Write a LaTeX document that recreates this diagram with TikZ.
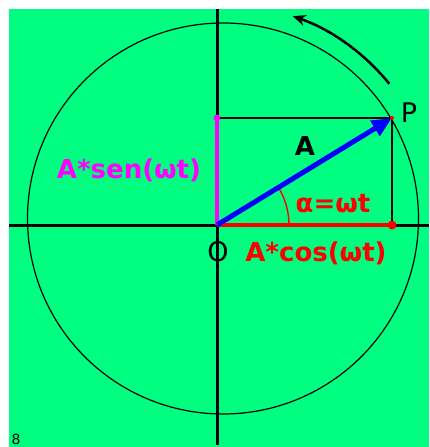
\documentclass[tikz,border=0pt]{standalone}
\usepackage{fontspec}
\setmainfont{DejaVu Sans}
\usetikzlibrary{arrows.meta}
\definecolor{fondo}{RGB}{0,255,128}
\definecolor{rosa}{RGB}{255,0,255}

\begin{document}
\begin{tikzpicture}[
  x=1pt, y=-1pt,
  every node/.style={inner sep=0pt, anchor=base, font=\fontsize{26}{26}\selectfont\bfseries},
  fino/.style={font=\fontsize{27}{27}\selectfont},
  eje/.style={line width=3pt},
  >=Stealth]
  \useasboundingbox (0,0) rectangle (429,447);
  \fill[fondo] (9,9) rectangle (429,447);
  \coordinate (O) at (217,225);
  \coordinate (P) at (392,118);
  \coordinate (Px) at (392,225);
  \coordinate (Py) at (217,118);
  \coordinate (C) at (223,218.5);
  \coordinate (izq) at (9,225);
  \coordinate (der) at (429,225);
  \coordinate (arr) at (217,9);
  \coordinate (aba) at (217,445);
  \draw[line width=1.2pt] (C) circle[radius=195.5];
  \draw[eje] (izq) -- (der);
  \draw[eje] (arr) -- (aba);
  \draw[line width=2.5pt, -{Stealth[length=13pt,width=11pt]}]
    ([shift={(-39:214)}]C) arc[start angle=-39, end angle=-71, radius=214];
  \draw[line width=1.5pt] (Py) -- (P);
  \draw[line width=1.2pt] (P) -- (Px);
  \draw[rosa, line width=4pt] (O) -- (Py);
  \fill[rosa] (Py) circle[radius=3.5];
  \draw[red, line width=4pt] (O) -- (Px);
  \fill[red] (Px) circle[radius=4.5];
  \draw[red, line width=1.4pt] ([shift={(0:72)}]O) arc[start angle=0, end angle=-31, radius=72];
  \draw[blue, line width=5pt, -{Triangle[length=20pt,width=17pt]}] (O) -- (P);
  \fill[red] (P) circle[radius=2];
  \node (A) at (305,155) {A};
  \node[fino] (lP) at (409,122) {P};
  \node[fino] (lO) at (218,261) {O};
  \node[red] (ang) at (333,212) {α=ωt};
  \node[red] (cos) at (316,261) {A*cos(ωt)};
  \node[rosa] (sen) at (129,178) {A*sen(ωt)};
  \node[font=\fontsize{14}{14}\selectfont] (n8) at (16,444) {8};
\end{tikzpicture}
\end{document}
